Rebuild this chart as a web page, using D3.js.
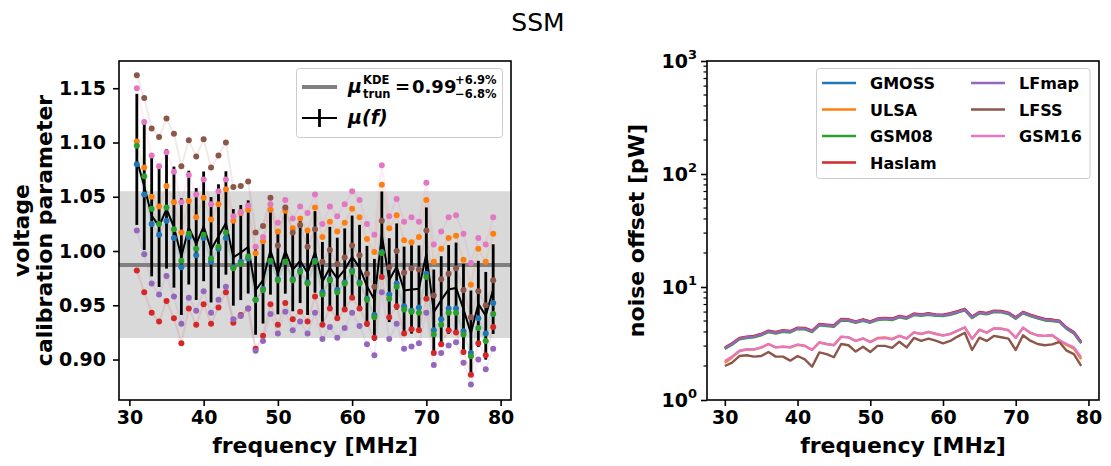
<!DOCTYPE html>
<html><head><meta charset="utf-8">
<script src="https://cdn.jsdelivr.net/npm/d3@7"></script>
<style>
body{margin:0;background:#fff}
svg{display:block;font-family:"DejaVu Sans",sans-serif}
</style>
</head><body>
<svg id="c" width="1111" height="466"></svg>
<script>
// ---------------- DATA ----------------
// left panel frequencies (MHz)
const calFreqs = [31,32,33,34,35,36,37,38,39,40,41,42,43,44,45,46,47,48,49,50,
                  51,52,53,54,55,56,57,58,59,60,61,62,63,64,65,66,67,68,69,70,
                  71,72,73,74,75,76,77,78,79];
// right panel frequencies (MHz)
const noiseFreqs = [30,31,32,33,34,35,36,37,38,39,40,41,42,43,44,45,46,47,48,49,
                    50,51,52,53,54,55,56,57,58,59,60,61,62,63,64,65,66,67,68,69,
                    70,71,72,73,74,75,76,77,78,79];
const models = ["GMOSS","ULSA","GSM08","Haslam","LFmap","LFSS","GSM16"];
const colors = ["#1f77b4","#ff7f0e","#2ca02c","#d62728","#9467bd","#8c564b","#e377c2"];

// voltage calibration parameter per model (left panel)
const calGMOSS  = [1.080,1.052,1.025,1.015,1.028,1.012,0.985,1.013,0.996,1.012,0.990,1.002,1.012,0.985,0.990,0.993,0.955,0.965,0.990,0.974,
                   0.990,0.974,0.982,0.971,0.991,0.962,0.974,0.964,0.971,0.982,0.971,0.956,0.941,0.999,0.960,0.970,0.949,0.945,0.948,
                   0.979,0.927,0.937,0.947,0.947,0.926,0.906,0.938,0.924,0.952];
const calULSA   = [1.101,1.077,1.050,1.041,1.060,1.045,1.017,1.046,1.031,1.049,1.029,1.043,1.057,1.028,1.035,1.038,0.998,1.009,1.038,1.018,
                   1.037,1.021,1.030,1.019,1.040,1.013,1.027,1.018,1.026,1.039,1.031,1.011,0.999,1.061,1.021,1.033,1.010,1.008,1.013,
                   1.047,0.990,1.002,1.012,1.014,0.992,0.969,1.002,0.990,1.016];
const calGSM08  = [1.097,1.069,1.039,1.025,1.040,1.020,0.991,1.016,1.002,1.015,0.993,1.004,1.017,0.984,0.988,0.995,0.955,0.964,0.991,0.973,
                   0.990,0.973,0.981,0.970,0.990,0.960,0.973,0.962,0.970,0.981,0.970,0.955,0.939,0.998,0.956,0.967,0.946,0.944,0.943,
                   0.976,0.923,0.932,0.943,0.943,0.923,0.903,0.929,0.917,0.942];
const calHaslam = [0.982,0.962,0.943,0.935,0.954,0.938,0.915,0.947,0.932,0.951,0.933,0.948,0.962,0.934,0.941,0.947,0.910,0.922,0.951,0.932,
                   0.952,0.937,0.944,0.935,0.958,0.932,0.947,0.938,0.946,0.957,0.947,0.933,0.920,0.976,0.939,0.949,0.924,0.928,0.927,
                   0.956,0.906,0.914,0.927,0.925,0.907,0.886,0.915,0.904,0.930];
const calLFmap  = [1.019,0.997,0.970,0.960,0.977,0.958,0.933,0.957,0.945,0.963,0.943,0.955,0.967,0.937,0.940,0.947,0.908,0.917,0.942,0.924,
                   0.944,0.927,0.935,0.924,0.943,0.919,0.930,0.920,0.929,0.943,0.931,0.914,0.904,0.962,0.919,0.933,0.910,0.912,0.915,
                   0.943,0.895,0.906,0.913,0.916,0.897,0.877,0.900,0.891,0.910];
const calLFSS   = [1.162,1.141,1.113,1.105,1.122,1.108,1.078,1.102,1.087,1.103,1.077,1.088,1.100,1.059,1.060,1.064,1.017,1.023,1.049,1.005,
                   1.040,1.017,1.024,1.004,1.020,0.990,1.001,0.988,0.994,1.005,0.996,0.979,0.967,1.028,0.985,1.000,0.980,0.984,0.983,
                   1.019,0.959,0.974,0.979,0.984,0.964,0.939,0.963,0.950,0.973];
const calGSM16  = [1.150,1.119,1.088,1.078,1.091,1.073,1.045,1.070,1.052,1.066,1.043,1.055,1.066,1.032,1.036,1.042,1.004,1.013,1.043,1.026,
                   1.047,1.030,1.041,1.035,1.052,1.025,1.041,1.032,1.043,1.055,1.047,1.025,1.015,1.079,1.032,1.048,1.027,1.031,1.027,
                   1.063,1.006,1.018,1.031,1.033,1.016,0.989,1.012,1.006,1.031];

// truncated KDE mean and its percentage spread
const muKDE = 0.987, muPlusPct = 6.9, muMinusPct = 6.8;

// noise offset [pW] per model (right panel)
const noiseGMOSS  = [2.88,3.14,3.50,3.60,3.65,3.80,4.07,3.95,4.10,4.04,4.33,4.30,4.07,4.66,4.60,4.54,5.17,5.13,4.92,5.13,
                     4.92,5.21,5.28,5.21,5.49,5.35,5.76,5.68,5.80,5.68,5.64,5.80,6.04,6.33,5.42,5.96,5.84,6.12,6.08,5.88,
                     5.35,5.96,5.64,5.38,5.17,5.10,5.00,4.33,3.96,3.24];
const noiseULSA   = [2.14,2.38,2.71,2.80,2.80,2.91,3.12,2.92,2.97,2.93,3.08,3.02,2.78,3.23,3.13,3.06,3.62,3.58,3.34,3.50,
                     3.27,3.54,3.58,3.47,3.70,3.51,3.96,3.85,4.00,3.86,3.73,3.85,4.10,4.38,3.49,4.18,3.95,4.30,4.27,4.14,
                     3.56,4.35,3.93,3.74,3.69,3.74,3.35,3.07,2.85,2.30];
const noiseGSM08  = [2.83,3.08,3.44,3.54,3.59,3.73,3.99,3.88,4.02,3.96,4.25,4.22,3.99,4.57,4.51,4.45,5.06,5.02,4.83,5.02,
                     4.83,5.10,5.17,5.10,5.38,5.24,5.64,5.57,5.68,5.57,5.53,5.68,5.92,6.21,5.31,5.84,5.72,6.00,5.96,5.76,
                     5.24,5.84,5.53,5.27,5.06,4.99,4.90,4.25,3.88,3.17];
const noiseHaslam = [2.91,3.18,3.54,3.64,3.69,3.85,4.11,4.00,4.14,4.08,4.37,4.34,4.11,4.71,4.65,4.59,5.22,5.18,4.97,5.18,
                     4.97,5.26,5.33,5.26,5.54,5.40,5.82,5.73,5.86,5.73,5.69,5.86,6.10,6.39,5.47,6.02,5.90,6.18,6.14,5.94,
                     5.40,6.02,5.69,5.43,5.22,5.15,5.04,4.37,4.00,3.27];
const noiseLFmap  = [2.87,3.13,3.49,3.59,3.64,3.79,4.05,3.94,4.08,4.02,4.31,4.28,4.05,4.64,4.58,4.52,5.14,5.10,4.90,5.10,
                     4.90,5.18,5.25,5.18,5.46,5.32,5.73,5.65,5.77,5.65,5.61,5.77,6.01,6.30,5.39,5.93,5.81,6.09,6.05,5.85,
                     5.32,5.93,5.61,5.35,5.14,5.07,4.97,4.31,3.94,3.22];
const noiseLFSS   = [2.00,2.14,2.45,2.49,2.42,2.45,2.66,2.42,2.42,2.23,2.45,2.29,1.97,2.64,2.55,2.39,3.13,3.05,2.68,2.96,
                     2.66,3.01,3.01,2.89,3.28,2.92,3.54,3.33,3.49,3.35,3.17,3.33,3.64,3.94,2.77,3.56,3.33,3.69,3.59,3.49,
                     2.77,3.74,3.35,3.13,3.05,3.11,3.26,2.73,2.55,2.00];
const noiseGSM16  = [2.21,2.42,2.73,2.81,2.81,2.92,3.13,2.92,2.96,2.92,3.09,3.01,2.77,3.24,3.13,3.05,3.64,3.59,3.33,3.51,
                     3.24,3.51,3.54,3.44,3.69,3.49,3.97,3.84,4.00,3.84,3.71,3.84,4.11,4.40,3.47,4.19,3.94,4.31,4.28,4.14,
                     3.54,4.37,3.94,3.74,3.69,3.76,3.40,3.13,2.92,2.39];

const xTickVals = [30,40,50,60,70,80];
const calTickVals = [0.90,0.95,1.00,1.05,1.10,1.15];
const noiseTickExps = [0,1,2,3];

// ---------------- DRAW ----------------
const calSeries = [calGMOSS,calULSA,calGSM08,calHaslam,calLFmap,calLFSS,calGSM16];
const noiseSeries = [noiseGMOSS,noiseULSA,noiseGSM08,noiseHaslam,noiseLFmap,noiseLFSS,noiseGSM16];

const svg = d3.select("#c");
const SW = 1.6, TFS = 19, LFS = 22;

svg.append("text").attr("x",538).attr("y",31).attr("text-anchor","middle")
   .attr("font-size",25).attr("fill","#000").text("SSM");

function styleAxis(g, fs){
  g.select(".domain").remove();
  g.selectAll(".tick line").attr("stroke","#000").attr("stroke-width",SW);
  g.selectAll(".tick text").attr("font-size",fs).attr("font-weight","bold").attr("fill","#000")
   .attr("font-family",'"DejaVu Sans",sans-serif');
}

// ---- Left panel ----
const L = {l:119, r:511, t:61, b:400};
const xL = d3.scaleLinear().domain([28.6,81.4]).range([L.l,L.r]);
const yL = d3.scaleLinear().domain([0.8627,1.1751]).range([L.b,L.t]);
const gL = svg.append("g");

const muHi = muKDE*(1+muPlusPct/100), muLo = muKDE*(1-muMinusPct/100);
gL.append("rect").attr("x",L.l).attr("width",L.r-L.l)
  .attr("y",yL(muHi)).attr("height",yL(muLo)-yL(muHi)).attr("fill","#d9d9d9");
gL.append("line").attr("x1",L.l).attr("x2",L.r).attr("y1",yL(muKDE)).attr("y2",yL(muKDE))
  .attr("stroke","#808080").attr("stroke-width",4);

const lineL = d3.line().x((d,i)=>xL(calFreqs[i])).y(d=>yL(d));
calSeries.forEach((s,k)=>{
  gL.append("path").attr("d",lineL(s)).attr("fill","none")
    .attr("stroke",colors[k]).attr("stroke-opacity",0.12).attr("stroke-width",2);
});

const stats = calFreqs.map((f,i)=>{
  const v = calSeries.map(s=>s[i]);
  const m = d3.mean(v);
  const sd = Math.sqrt(d3.mean(v.map(x=>(x-m)*(x-m))));
  return {f,m,sd};
});
gL.selectAll("line.err").data(stats).enter().append("line")
  .attr("x1",d=>xL(d.f)).attr("x2",d=>xL(d.f))
  .attr("y1",d=>yL(d.m-d.sd)).attr("y2",d=>yL(d.m+d.sd))
  .attr("stroke","#000").attr("stroke-width",2.8);
gL.append("path").attr("d",d3.line().x(d=>xL(d.f)).y(d=>yL(d.m))(stats))
  .attr("fill","none").attr("stroke","#000").attr("stroke-width",2);

calSeries.forEach((s,k)=>{
  gL.append("g").selectAll("circle").data(s).enter().append("circle")
    .attr("cx",(d,i)=>xL(calFreqs[i])).attr("cy",d=>yL(d)).attr("r",3).attr("fill",colors[k]);
});

gL.append("rect").attr("x",L.l).attr("y",L.t).attr("width",L.r-L.l).attr("height",L.b-L.t)
  .attr("fill","none").attr("stroke","#000").attr("stroke-width",SW);

const axLx = gL.append("g").attr("transform",`translate(0,${L.b})`)
  .call(d3.axisBottom(xL).tickValues(xTickVals).tickSize(6).tickPadding(5));
styleAxis(axLx,TFS);
const axLy = gL.append("g").attr("transform",`translate(${L.l},0)`)
  .call(d3.axisLeft(yL).tickValues(calTickVals).tickFormat(d3.format(".2f")).tickSize(6).tickPadding(7));
styleAxis(axLy,TFS);

gL.append("text").attr("x",(L.l+L.r)/2).attr("y",453).attr("text-anchor","middle")
  .attr("font-size",LFS).attr("font-weight","bold").text("frequency [MHz]");
const yl = gL.append("text").attr("transform",`translate(0,${(L.t+L.b)/2}) rotate(-90)`)
  .attr("text-anchor","middle").attr("font-size",LFS).attr("font-weight","bold");
yl.append("tspan").attr("x",0).attr("y",29).text("voltage");
yl.append("tspan").attr("x",0).attr("y",52).text("calibration parameter");

// left legend
const lg = gL.append("g");
lg.append("rect").attr("x",296.5).attr("y",68.5).attr("width",206).attr("height",69).attr("rx",3)
  .attr("fill","#fff").attr("fill-opacity",0.8).attr("stroke","#ccc").attr("stroke-width",1);
lg.append("line").attr("x1",302).attr("x2",337).attr("y1",87).attr("y2",87)
  .attr("stroke","#808080").attr("stroke-width",4);
lg.append("line").attr("x1",302).attr("x2",337).attr("y1",118).attr("y2",118)
  .attr("stroke","#000").attr("stroke-width",2);
lg.append("line").attr("x1",319.5).attr("x2",319.5).attr("y1",109).attr("y2",127)
  .attr("stroke","#000").attr("stroke-width",2.8);
const tb = (x,y,fs,t,st)=>lg.append("text").attr("x",x).attr("y",y).attr("font-size",fs)
  .attr("font-weight","bold").attr("font-style",st||"normal").text(t);
tb(348,93,19,"μ","italic");
tb(363,84,11.5,"KDE");
tb(363,98,11.5,"trun");
tb(395,93,18,"=");
tb(412,93,18,muKDE.toFixed(2));
tb(455,84,11.5,"+"+muPlusPct.toFixed(1)+"%");
tb(455,98,11.5,"−"+muMinusPct.toFixed(1)+"%");
tb(348,124,19,"μ(f)","italic");

// ---- Right panel ----
const R = {l:707, r:1099, t:61, b:400};
const xR = d3.scaleLinear().domain([27.55,81.45]).range([R.l,R.r]);
const yR = d3.scaleLog().domain([1,1000]).range([R.b,R.t]);
const gR = svg.append("g");
const lineR = d3.line().x((d,i)=>xR(noiseFreqs[i])).y(d=>yR(d));
noiseSeries.forEach((s,k)=>{
  gR.append("path").attr("d",lineR(s)).attr("fill","none")
    .attr("stroke",colors[k]).attr("stroke-width",2.4).attr("stroke-linejoin","round");
});
gR.append("rect").attr("x",R.l).attr("y",R.t).attr("width",R.r-R.l).attr("height",R.b-R.t)
  .attr("fill","none").attr("stroke","#000").attr("stroke-width",SW);
const axRx = gR.append("g").attr("transform",`translate(0,${R.b})`)
  .call(d3.axisBottom(xR).tickValues(xTickVals).tickSize(6).tickPadding(5));
styleAxis(axRx,TFS);
const majors = noiseTickExps.map(e=>Math.pow(10,e));
const axRy = gR.append("g").attr("transform",`translate(${R.l},0)`)
  .call(d3.axisLeft(yR).tickValues(majors).tickFormat("").tickSize(6));
styleAxis(axRy,TFS);
const minors = [];
[1,10,100].forEach(b=>{for(let m=2;m<=9;m++) minors.push(b*m);});
gR.append("g").selectAll("line").data(minors).enter().append("line")
  .attr("x1",R.l-3.5).attr("x2",R.l).attr("y1",d=>yR(d)).attr("y2",d=>yR(d))
  .attr("stroke","#000").attr("stroke-width",1.2);
noiseTickExps.forEach(e=>{
  const t = gR.append("text").attr("x",R.l-10).attr("y",yR(Math.pow(10,e))+7)
    .attr("text-anchor","end").attr("font-size",TFS).attr("font-weight","bold");
  t.append("tspan").text("10");
  t.append("tspan").attr("dy",-9).attr("font-size",13).text(String(e));
});
gR.append("text").attr("x",(R.l+R.r)/2).attr("y",453).attr("text-anchor","middle")
  .attr("font-size",LFS).attr("font-weight","bold").text("frequency [MHz]");
gR.append("text").attr("transform",`translate(644,${(R.t+R.b)/2}) rotate(-90)`)
  .attr("text-anchor","middle").attr("font-size",LFS).attr("font-weight","bold").text("noise offset [pW]");

// right legend
const rg = gR.append("g");
rg.append("rect").attr("x",816.5).attr("y",68.5).attr("width",273.5).attr("height",110).attr("rx",3)
  .attr("fill","#fff").attr("fill-opacity",0.8).attr("stroke","#ccc").attr("stroke-width",1);
models.forEach((m,k)=>{
  const col = k<4?0:1, row = k<4?k:k-4;
  const lx = col===0?822:971, ty = 83+row*26.5;
  rg.append("line").attr("x1",lx).attr("x2",lx+34).attr("y1",ty).attr("y2",ty)
    .attr("stroke",colors[k]).attr("stroke-width",2.4);
  rg.append("text").attr("x",lx+48).attr("y",ty+6).attr("font-size",16).attr("font-weight","bold").text(m);
});
</script>
</body></html>
